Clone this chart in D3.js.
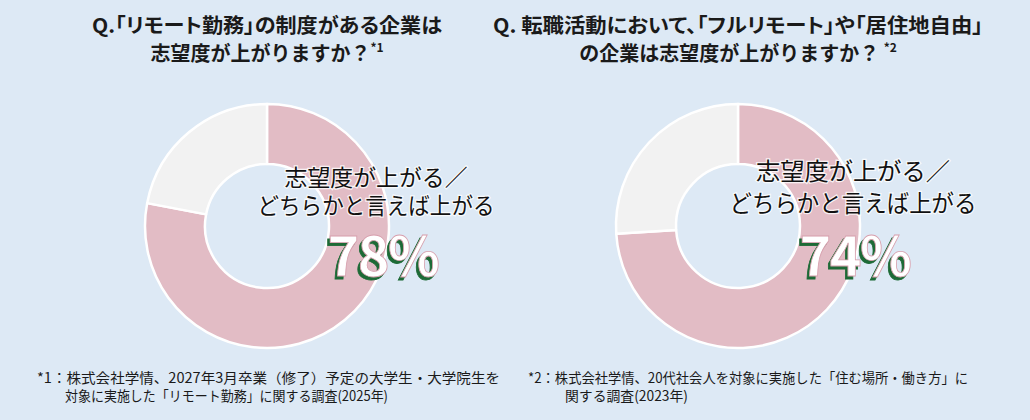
<!DOCTYPE html>
<html lang="ja">
<head>
<meta charset="utf-8">
<script src="https://cdn.jsdelivr.net/npm/d3@7"></script>
<style>
  html, body { margin: 0; padding: 0; background: #dde9f5; }
  svg { display: block; }
  text { font-family: "Noto Sans CJK JP", "Noto Sans", sans-serif; }
  .q1 { font-feature-settings: "palt"; }
</style>
</head>
<body>
<div id="chart"></div>
<script>
// data
const questionLine1 = ['Q.「リモート勤務」の制度がある企業は', 'Q. 転職活動において、「フルリモート」や「居住地自由」'];
const questionLine2 = ['志望度が上がりますか？', 'の企業は志望度が上がりますか？ '];
const questionMarks = ['*1', '*2'];
const riseShare = [78, 74];          // 志望度が上がる／どちらかと言えば上がる (%)
const answerLabel = ['志望度が上がる／', 'どちらかと言えば上がる'];
const noteLines1 = ['*1：株式会社学情、2027年3月卒業（修了）予定の大学生・大学院生を', '対象に実施した「リモート勤務」に関する調査(2025年)'];
const noteLines2 = ['*2：株式会社学情、20代社会人を対象に実施した「住む場所・働き方」に', '関する調査(2023年)'];

const W = 1030, H = 420;
const colors = { rise: '#e2bcc5', rest: '#f2f2f2', bg: '#dde9f5' };

// layout of the two panels
const panels = [
  { cx: 267, cy: 226, t1w: 350, labelDx: 109, l1y: 186, l2y: 214, l1w: 183, l2w: 237, fs: 23, pctDx: 116,
    note: noteLines1, nx: 37, nx2: 65, nw1: 463, nw2: 323 },
  { cx: 738, cy: 226, t1w: 490, labelDx: 115, l1y: 180, l2y: 212, l1w: 194, l2w: 247, fs: 24, pctDx: 117,
    note: noteLines2, nx: 528, nx2: 565, nw1: 440, nw2: 123 }
];

const svg = d3.select('#chart').append('svg')
  .attr('width', W).attr('height', H)
  .attr('viewBox', `0 0 ${W} ${H}`);

svg.append('rect').attr('width', W).attr('height', H).attr('fill', colors.bg);

const pie = d3.pie().sort(null).value(d => d.value);
const arc = d3.arc().innerRadius(62).outerRadius(122);

panels.forEach((p, i) => {
  const g = svg.append('g');

  // question title
  g.append('text')
    .attr('class', 'q1')
    .attr('x', p.cx).attr('y', 33)
    .attr('text-anchor', 'middle')
    .attr('font-size', 20).attr('font-weight', 700).attr('fill', '#1a1a1a')
    .attr('textLength', p.t1w).attr('lengthAdjust', 'spacingAndGlyphs')
    .text(questionLine1[i]);

  const t2 = g.append('text')
    .attr('x', p.cx).attr('y', 61)
    .attr('text-anchor', 'middle')
    .attr('font-size', 20).attr('font-weight', 700).attr('fill', '#1a1a1a');
  t2.append('tspan').text(questionLine2[i]);
  t2.append('tspan').attr('font-size', 12).attr('dy', -9).text(questionMarks[i]);

  // donut
  const slices = pie([
    { key: 'rise', value: riseShare[i] },
    { key: 'rest', value: 100 - riseShare[i] }
  ]);
  g.append('g')
    .attr('transform', `translate(${p.cx},${p.cy})`)
    .selectAll('path')
    .data(slices)
    .join('path')
    .attr('d', arc)
    .attr('fill', d => colors[d.data.key])
    .attr('stroke', '#ffffff')
    .attr('stroke-width', 2.5)
    .attr('stroke-linejoin', 'round');

  // answer label
  const lx = p.cx + p.labelDx;
  [[answerLabel[0], p.l1y, p.l1w], [answerLabel[1], p.l2y, p.l2w]].forEach(([t, y, w]) => {
    g.append('text')
      .attr('x', lx).attr('y', y)
      .attr('text-anchor', 'middle')
      .attr('font-size', p.fs).attr('font-weight', 400)
      .attr('fill', '#111')
      .attr('stroke', '#ffffff').attr('stroke-width', 2.5).attr('stroke-opacity', 0.8)
      .attr('paint-order', 'stroke')
      .attr('textLength', w).attr('lengthAdjust', 'spacingAndGlyphs')
      .text(t);
  });

  // big percentage with green drop shadow
  const px = p.cx + p.pctDx;
  const pct = riseShare[i] + '%';
  const pctText = (x, y) => g.append('text')
    .attr('x', x).attr('y', y)
    .attr('text-anchor', 'middle')
    .attr('font-family', '"Noto Sans", "Open Sans", sans-serif')
    .attr('font-size', 54).attr('font-weight', 700)
    .attr('letter-spacing', -1.5)
    .text(pct);
  pctText(px - 2.5, 276 + 2.5)
    .attr('fill', '#1d6a36').attr('stroke', '#1d6a36').attr('stroke-width', 0.8);
  pctText(px, 276)
    .attr('fill', '#ffffff').attr('stroke', '#d79fad').attr('stroke-width', 0.8);

  // source note
  g.append('text')
    .attr('x', p.nx).attr('y', 383)
    .attr('font-size', 14).attr('fill', '#1a1a1a')
    .attr('textLength', p.nw1).attr('lengthAdjust', 'spacingAndGlyphs')
    .text(p.note[0]);
  g.append('text')
    .attr('x', p.nx2).attr('y', 401)
    .attr('font-size', 14).attr('fill', '#1a1a1a')
    .attr('textLength', p.nw2).attr('lengthAdjust', 'spacingAndGlyphs')
    .text(p.note[1]);
});
</script>
</body>
</html>
